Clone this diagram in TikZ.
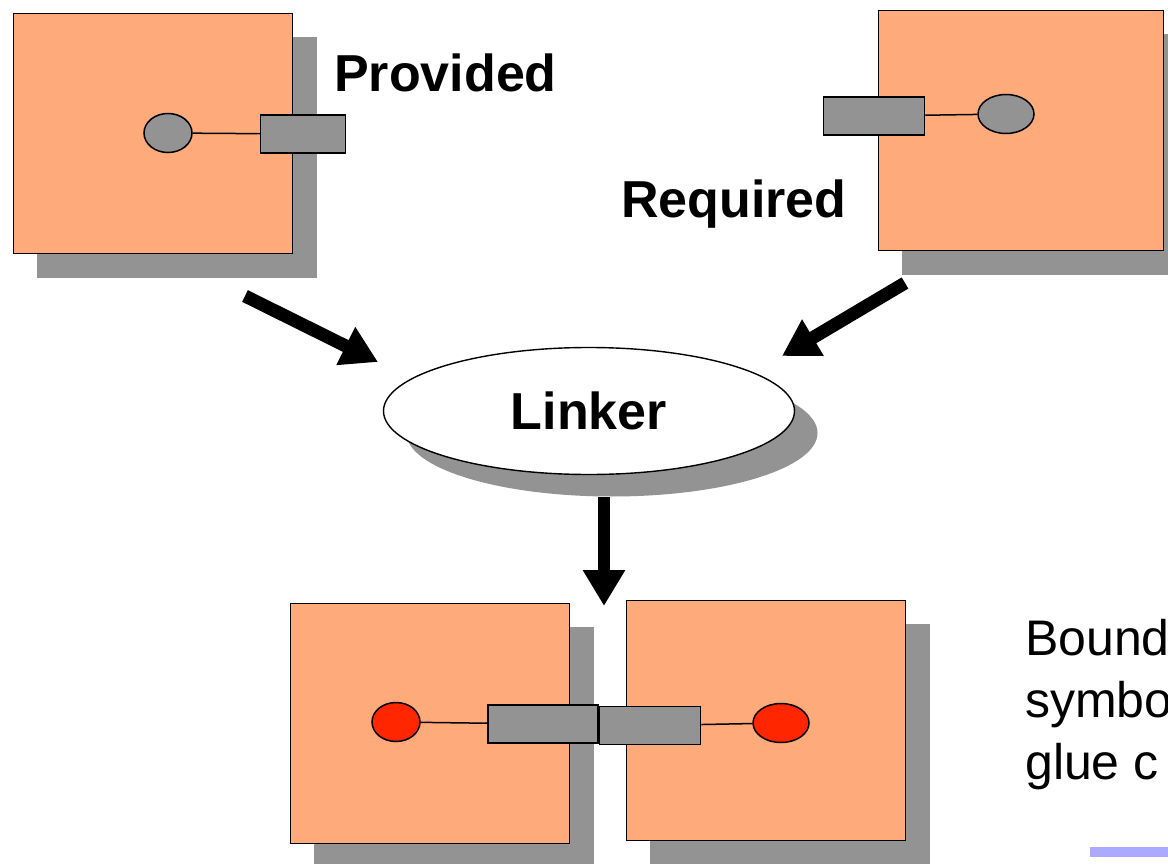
\documentclass[tikz,border=0pt]{standalone}
\usepackage{fontspec}
\setmainfont{Liberation Sans}
\usepackage{tikz}
\usetikzlibrary{arrows.meta,positioning,shapes.geometric}
\pgfdeclarelayer{background layer}
\pgfsetlayers{background layer,main}
\definecolor{compfill}{RGB}{255,170,122}
\definecolor{grey}{RGB}{147,147,147}
\definecolor{plugred}{RGB}{255,38,0}
\definecolor{barblue}{RGB}{170,170,255}

\begin{document}
\begin{tikzpicture}[x=1pt,y=-1pt]
\tikzstyle{comp}=[draw=black,fill=compfill,line width=1.4pt,minimum width=279pt,minimum height=240pt,inner sep=0pt,anchor=north west]
\tikzstyle{iface}=[draw=black,fill=grey,line width=1.5pt,minimum width=85pt,minimum height=38pt,inner sep=0pt]
\tikzstyle{plug}=[draw=black,ellipse,fill=grey,line width=1.5pt,minimum width=48pt,minimum height=39pt,inner sep=0pt]
\tikzstyle{wire}=[line width=1.5pt]
\tikzstyle{bigarrow}=[line width=13pt,-{Triangle[length=36pt,width=40pt]}]
\tikzstyle{heading}=[font=\bfseries\fontsize{52}{60}\selectfont,inner sep=0pt]
\tikzstyle{note}=[font=\fontsize{50}{62}\selectfont,inner sep=0pt,anchor=base west]
\useasboundingbox (0,0) rectangle (1168,864);
\clip (0,0) rectangle (1168,864);

% the two components before linking
\node [comp] (provbox) at (13,13) {};
\node [comp,minimum width=285pt] (reqbox) at (878,10) {};
\node [plug] (provplug) at (168,133) {};
\node [iface] (provport) at (303,134) {};
\draw [wire] (provplug) -- (provport);
\node [iface,minimum width=101pt] (reqport) at (874,116) {};
\node [plug,minimum width=56pt] (reqplug) at (1006,114) {};
\draw [wire] (reqport) -- (reqplug);
\node [heading,anchor=base west] (provtext) at (334,92) {Provided};
\node [heading,anchor=base west] (reqtext) at (621,217) {Required};

% linker
\node [draw=black,ellipse,fill=white,line width=1.4pt,minimum width=411pt,minimum height=127pt,heading] (linker) at (589,411) {Linker};

% the two components after linking
\node [comp] (leftbox) at (290,603) {};
\node [comp] (rightbox) at (626,600) {};
\node [plug,fill=plugred] (leftplug) at (396,722) {};
\node [iface,minimum width=110pt] (leftport) at (543,724) {};
\node [iface,minimum width=101pt,right=0pt of leftport,yshift=-1.5pt] (rightport) {};
\node [plug,fill=plugred,minimum width=56pt] (rightplug) at (781,723) {};
\draw [wire] (leftplug) -- (leftport);
\draw [wire] (rightport) -- (rightplug);

% arrows
\coordinate (a1) at (245,296);
\coordinate (a1tip) at (378,362);
\coordinate (a2) at (905,283);
\coordinate (a2tip) at (782,356);
\coordinate (a3) at (604,497);
\coordinate (a3tip) at (604,606);
\draw [bigarrow] (a1) -- (a1tip);
\draw [bigarrow] (a2) -- (a2tip);
\draw [bigarrow,line width=12pt] (a3) -- (a3tip);

\foreach \t [count=\i] in {Bound,symbo,glue c}
  \node [note] (note\i) at (1025,593+62*\i) {\t};
\fill [barblue] (1090,847) rectangle (1168,857);

\begin{pgfonlayer}{background layer}
\foreach \b in {provbox,reqbox,leftbox,rightbox}
  \fill [grey] ([shift={(24,24)}]\b.north west) rectangle ([shift={(24,24)}]\b.south east);
\fill [grey] ([shift={(23,22)}]linker.center) ellipse [x radius=205.5, y radius=63.5];
\end{pgfonlayer}
\end{tikzpicture}
\end{document}
